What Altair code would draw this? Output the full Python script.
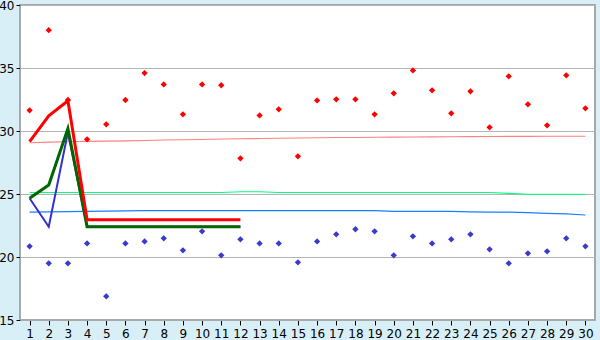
import altair as alt
import pandas as pd

days = list(range(1, 31))

red_points = [31.64, 38.0, 32.46, 29.34, 30.53, 32.46, 34.6, 33.7, 31.32, 33.7,
              33.63, 27.83, 31.24, 31.72, 27.99, 32.43, 32.51, 32.51, 31.32, 32.99,
              34.81, 33.23, 31.4, 33.15, 30.29, 34.34, 32.12, 30.45, 34.42, 31.8]
blue_points = [20.85, 19.5, 19.5, 21.08, 16.88, 21.08, 21.24, 21.48, 20.53, 22.04,
               20.13, 21.4, 21.08, 21.08, 19.58, 21.24, 21.8, 22.2, 22.04, 20.13,
               21.64, 21.08, 21.4, 21.8, 20.61, 19.5, 20.29, 20.45, 21.48, 20.85]

red_trend = [29.07, 29.12, 29.15, 29.18, 29.2, 29.22, 29.25, 29.28, 29.3, 29.33,
             29.36, 29.38, 29.4, 29.42, 29.44, 29.46, 29.48, 29.49, 29.5, 29.51,
             29.52, 29.53, 29.54, 29.55, 29.56, 29.57, 29.57, 29.58, 29.58, 29.58]
green_trend = [25.12, 25.12, 25.12, 25.12, 25.12, 25.12, 25.12, 25.12, 25.12, 25.12,
               25.12, 25.18, 25.18, 25.12, 25.12, 25.12, 25.12, 25.12, 25.12, 25.12,
               25.12, 25.12, 25.12, 25.12, 25.12, 25.05, 24.98, 24.98, 24.98, 24.98]
blue_trend = [23.56, 23.58, 23.6, 23.62, 23.64, 23.66, 23.68, 23.68, 23.68, 23.68,
              23.68, 23.68, 23.68, 23.68, 23.68, 23.68, 23.68, 23.68, 23.68, 23.62,
              23.62, 23.62, 23.62, 23.58, 23.56, 23.56, 23.52, 23.46, 23.42, 23.33]

short_days = list(range(1, 13))
red_main = [29.15, 31.2, 32.4, 22.96, 22.96, 22.96, 22.96, 22.96, 22.96, 22.96, 22.96, 22.96]
green_main = [24.66, 25.71, 30.2, 22.41, 22.41, 22.41, 22.41, 22.41, 22.41, 22.41, 22.41, 22.41]
blue_main = [24.66, 22.4, 29.9, 22.41, 22.41, 22.41, 22.41, 22.41, 22.41, 22.41, 22.41, 22.41]

pts = pd.DataFrame({
    "day": days * 2,
    "value": red_points + blue_points,
    "series": ["red"] * 30 + ["blue"] * 30,
})
trends = pd.DataFrame({
    "day": days * 3,
    "value": red_trend + green_trend + blue_trend,
    "series": ["red"] * 30 + ["green"] * 30 + ["blue"] * 30,
})
mains = pd.DataFrame({
    "day": short_days * 3,
    "value": blue_main + green_main + red_main,
    "series": ["blue"] * 12 + ["green"] * 12 + ["red"] * 12,
})

xscale = alt.Scale(domain=[0.5, 30.5], nice=False, zero=False)
yscale = alt.Scale(domain=[15, 40], nice=False, zero=False)

xax = alt.Axis(values=days, grid=False, title=None, labelFont="DejaVu Sans", labelFontSize=12,
               labelColor="#000000", tickColor="#000000", tickSize=5, domainColor="#aaaaaa",
               labelPadding=3, labelFlush=False)
yax = alt.Axis(values=[15, 20, 25, 30, 35, 40], grid=True, gridColor="#b4b4b4", title=None,
               labelFont="DejaVu Sans", labelFontSize=12, labelColor="#000000",
               tickColor="#000000", tickSize=4, domainColor="#aaaaaa", labelPadding=2)

x = alt.X("day:Q", scale=xscale, axis=xax)
y = alt.Y("value:Q", scale=yscale, axis=yax)

pt_colors = alt.Scale(domain=["red", "blue"], range=["#ff0000", "#3a3acc"])
trend_colors = alt.Scale(domain=["red", "green", "blue"], range=["#ff8080", "#00ff80", "#1a7fff"])

trend_layer = alt.Chart(trends).mark_line(strokeWidth=1.1).encode(
    x=x, y=y, color=alt.Color("series:N", scale=trend_colors, legend=None), detail="series:N"
)

main_blue = alt.Chart(mains).transform_filter("datum.series == 'blue'").mark_line(
    strokeWidth=2, color="#3333cc").encode(x=x, y=y)
main_green = alt.Chart(mains).transform_filter("datum.series == 'green'").mark_line(
    strokeWidth=3, color="#006600").encode(x=x, y=y)
main_red = alt.Chart(mains).transform_filter("datum.series == 'red'").mark_line(
    strokeWidth=3, color="#ff0000").encode(x=x, y=y)

point_layer = alt.Chart(pts).mark_point(shape="diamond", filled=True, size=40, opacity=1).encode(
    x=x, y=y, color=alt.Color("series:N", scale=pt_colors, legend=None)
)

chart = alt.layer(trend_layer, main_blue, main_green, main_red, point_layer).properties(
    width=575, height=315,
    background="#d9eff7",
    padding={"left": 20, "top": 5, "right": 5, "bottom": 20},
    autosize=alt.AutoSizeParams(type="none"),
).configure_view(
    fill="#ffffff", stroke="#a8a8a8", strokeWidth=2
).resolve_scale(color="independent")

chart.save("out.html", embed_options={"renderer": "svg", "actions": False})
